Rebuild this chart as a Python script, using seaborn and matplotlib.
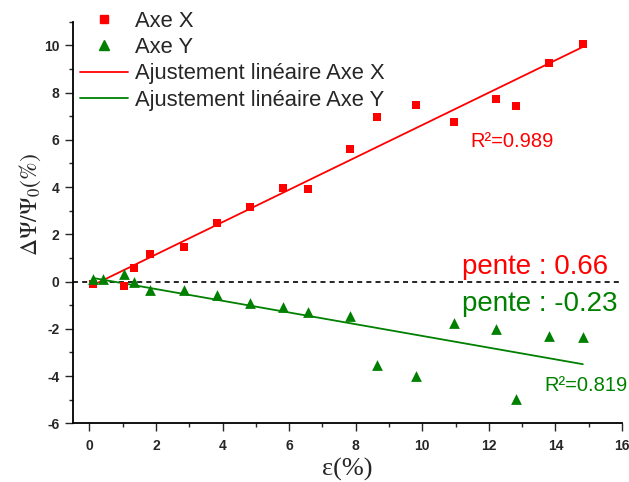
import numpy as np
import pandas as pd
import seaborn as sns
import matplotlib.pyplot as plt
from matplotlib.ticker import MultipleLocator
from matplotlib.lines import Line2D

# strain values (%)
strain = [0.1, 0.4, 1.05, 1.33, 1.83, 2.83, 3.83, 4.83, 5.83, 6.56,
          7.82, 8.63, 9.8, 10.95, 12.2, 12.8, 13.8, 14.82]
# relative change, X axis (red squares); the point at 0.4 is hidden in the original
axe_x = [-0.1, np.nan, -0.18, 0.56, 1.17, 1.48, 2.47, 3.14, 3.98, 3.93,
         5.61, 6.95, 7.47, 6.75, 7.74, 7.44, 9.25, 10.07]
# relative change, Y axis (green triangles)
axe_y = [0.11, 0.11, 0.32, -0.04, -0.35, -0.35, -0.56, -0.92, -1.09, -1.31,
         -1.45, -3.53, -4.0, -1.74, -2.0, -4.99, -2.29, -2.33]

slopes = ['pente : 0.66', 'pente : -0.23']
r2 = ['R²=0.989', 'R²=0.819']

red = '#ff0000'
green = '#008000'

df = pd.DataFrame({'strain': strain, 'x': axe_x, 'y': axe_y})

sns.set_style('ticks')
plt.rcParams['font.family'] = ['Liberation Sans', 'DejaVu Sans']
plt.rcParams['mathtext.fontset'] = 'stix'
plt.rcParams['axes.unicode_minus'] = False

fig = plt.figure(figsize=(6.29, 4.82), dpi=100)
ax = fig.add_axes([0.1156, 0.1218, 0.989 - 0.1156, 0.955 - 0.1218])

ax.axhline(0, color='black', lw=1.2, ls=(0, (3, 2.5)), zorder=1)

sns.scatterplot(data=df, x='strain', y='x', marker='s', s=40, color=red,
                linewidth=0, ax=ax, zorder=3)
sns.scatterplot(data=df, x='strain', y='y', marker='^', s=60, color=green,
                linewidth=0, ax=ax, zorder=3)
sns.regplot(data=df, x='strain', y='x', scatter=False, ci=None, truncate=True,
            color=red, line_kws={'lw': 1.3, 'zorder': 2}, ax=ax)
sns.regplot(data=df, x='strain', y='y', scatter=False, ci=None, truncate=True,
            color=green, line_kws={'lw': 1.3, 'zorder': 2}, ax=ax)

ax.set_xlim(-0.5, 16)
ax.set_ylim(-6, 11)
ax.xaxis.set_major_locator(MultipleLocator(2))
ax.xaxis.set_minor_locator(MultipleLocator(1))
ax.yaxis.set_major_locator(MultipleLocator(2))
ax.yaxis.set_minor_locator(MultipleLocator(1))
ax.set_xticks(np.arange(0, 17, 2))
ax.set_yticks(np.arange(-6, 11, 2))
ax.tick_params(which='major', length=5.5, width=1, direction='out', labelsize=10)
ax.tick_params(axis='x', which='major', pad=6)
ax.tick_params(axis='y', which='major', pad=4)
ax.tick_params(which='minor', length=3, width=1, direction='out')
for lab in ax.get_xticklabels() + ax.get_yticklabels():
    lab.set_fontweight('bold')
sns.despine(ax=ax)
for s in ['left', 'bottom']:
    ax.spines[s].set_linewidth(1.3)
    ax.spines[s].set_color('black')

ax.set_xlabel('ε(%)', family='Liberation Serif', fontsize=19)
ax.set_ylabel(r'$\Delta\Psi/\Psi_0(\%)$', fontsize=17)
ax.xaxis.set_label_coords(0.5, -0.085, transform=ax.transAxes)
ax.xaxis.label.set_va('top')
ax.yaxis.set_label_coords(-0.078, 0.544)
ax.yaxis.label.set_va('center')

ax.text(11.2, 0.62, slopes[0], color=red, fontsize=20, va='center')
ax.text(11.2, -0.93, slopes[1], color=green, fontsize=20, va='center')
ax.text(11.43, 5.93, r2[0], color=red, fontsize=14.5, va='center')
ax.text(13.68, -4.38, r2[1], color=green, fontsize=14.5, va='center')

handles = [
    Line2D([], [], ls='none', marker='s', ms=6, color=red),
    Line2D([], [], ls='none', marker='^', ms=7.5, color=green),
    Line2D([], [], color=red, lw=1.3),
    Line2D([], [], color=green, lw=1.3),
]
labels = ['Axe X', 'Axe Y', 'Ajustement linéaire Axe X', 'Ajustement linéaire Axe Y']
ax.legend(handles, labels, loc='upper left', bbox_to_anchor=(0.0133, 1.027),
          frameon=False, fontsize=15.8, handlelength=2.2, handletextpad=0.3,
          labelspacing=0.24, borderpad=0, borderaxespad=0)

fig.savefig('out.png', dpi=100)
